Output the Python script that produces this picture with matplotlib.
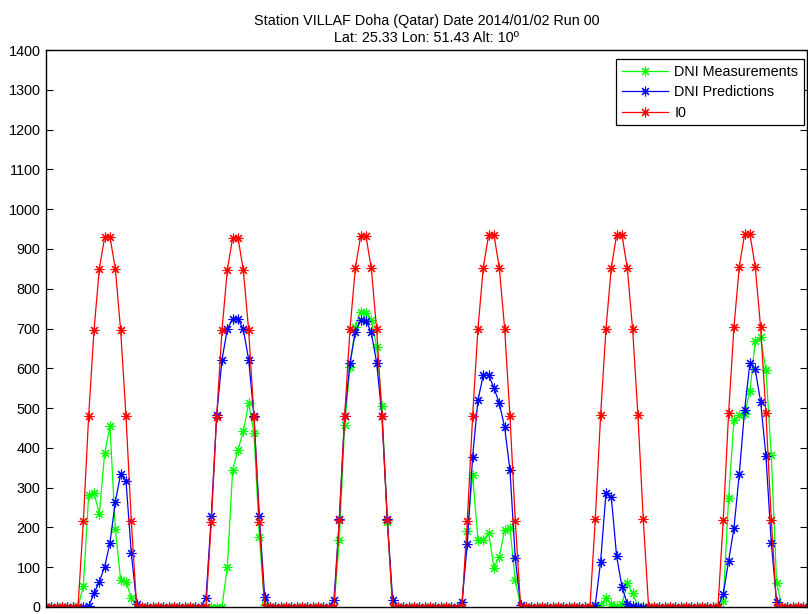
import numpy as np
import matplotlib
matplotlib.use("Agg")
import matplotlib.pyplot as plt

plt.rcParams['font.family'] = ['Liberation Sans', 'DejaVu Sans']

# hourly values for hours 6..18 of each day, everything else is night (0)
day_hours = list(range(6, 19))

dni_meas = [
    [0, 53, 281, 286, 235, 386, 455, 195, 68, 64, 22, 0, 0],
    [0, 0, 0, 0, 101, 344, 395, 442, 512, 438, 177, 5, 0],
    [0, 168, 457, 604, 704, 742, 740, 721, 654, 505, 214, 0, 0],
    [0, 192, 332, 168, 168, 187, 99, 126, 194, 198, 68, 0, 0],
    [0, 3, 5, 22, 7, 3, 7, 60, 34, 2, 0, 0, 0],
    [0, 15, 273, 470, 482, 485, 543, 669, 679, 595, 381, 61, 0],
]
dni_pred = [
    [0, 0, 2, 34, 64, 101, 162, 265, 334, 317, 135, 8, 0],
    [22, 229, 482, 622, 698, 725, 725, 698, 622, 480, 229, 26, 0],
    [18, 220, 480, 614, 690, 721, 720, 690, 614, 480, 220, 18, 0],
    [13, 158, 378, 520, 583, 583, 551, 512, 452, 344, 122, 5, 0],
    [0, 5, 114, 286, 277, 128, 51, 8, 3, 0, 0, 0, 0],
    [0, 33, 116, 198, 334, 495, 614, 597, 516, 380, 162, 13, 0],
]
i0 = [
    [0, 215, 480, 695, 850, 930, 930, 850, 695, 480, 215, 0, 0],
    [0, 214, 478, 696, 847, 928, 928, 847, 696, 478, 214, 0, 0],
    [0, 219, 480, 698, 851, 932, 932, 851, 698, 480, 219, 0, 0],
    [0, 216, 480, 700, 853, 935, 935, 853, 700, 480, 216, 0, 0],
    [0, 220, 482, 698, 852, 935, 935, 852, 698, 482, 220, 0, 0],
    [0, 219, 487, 703, 855, 937, 937, 855, 703, 487, 219, 0, 0],
]


def full_series(days):
    out = []
    for d in days:
        day = [0.0] * 24
        for h, v in zip(day_hours, d):
            day[h] = v
        out += day
    return np.array(out)


meas = full_series(dni_meas)
pred = full_series(dni_pred)
extra = full_series(i0)
t = np.arange(len(meas))

fig = plt.figure(figsize=(8.08, 6.14), dpi=100)
ax = fig.add_axes([46 / 808, 7 / 614, 761 / 808, 557 / 614])

star = (8, 2, 0)
kw = dict(marker=star, markersize=7, markeredgewidth=0.8, linewidth=0.9)
ax.plot(t, meas, color=(0, 1, 0), label='DNI Measurements', **kw)
ax.plot(t, pred, color=(0, 0, 1), label='DNI Predictions', **kw)
ax.plot(t, extra, color=(1, 0, 0), label='I0', **kw)

ax.set_xlim(0, 142.7)
ax.set_ylim(0, 1400)
ax.set_yticks(np.arange(0, 1401, 100))
ax.set_xticks([])
ax.tick_params(axis='y', direction='in', length=5, width=0.8, right=True,
               labelsize=10.4, pad=4)
for s in ax.spines.values():
    s.set_linewidth(1.0)
    s.set_color('black')

ax.set_title('Station VILLAF Doha (Qatar) Date 2014/01/02 Run 00\n'
             'Lat: 25.33 Lon: 51.43 Alt: 10º', fontsize=10.4, pad=6,
             linespacing=1.25)

leg = ax.legend(loc='upper right', bbox_to_anchor=(0.996, 0.984),
                borderaxespad=0, fontsize=10.4, handlelength=3.2,
                handletextpad=0.4, labelspacing=0.45, borderpad=0.4,
                fancybox=False, framealpha=1, edgecolor='black')
leg.get_frame().set_linewidth(0.9)

fig.savefig('out.png', dpi=100)
